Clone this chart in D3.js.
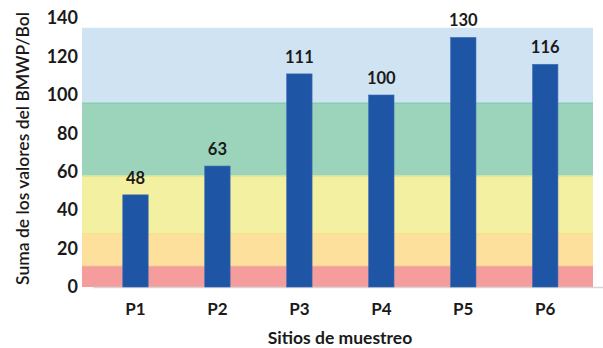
<!DOCTYPE html>
<html>
<head>
<meta charset="utf-8">
<script src="https://cdn.jsdelivr.net/npm/d3@7/dist/d3.min.js"></script>
<style>
  html, body { margin: 0; padding: 0; background: #ffffff; }
  svg { display: block; }
  text { font-family: Lato, "Open Sans", sans-serif; fill: #1a1a1a; }
</style>
</head>
<body>
<div id="chart"></div>
<script>
// Sampling sites and their summed BMWP/Bol scores
const sites = ["P1", "P2", "P3", "P4", "P5", "P6"];
const bmwpScores = [48, 63, 111, 100, 130, 116];

// Water-quality class bands drawn behind the bars (lower and upper score)
const classLower = [0, 11, 28, 58, 96];
const classUpper = [11, 28, 58, 96, 135];
const classFill = ["#f59c9c", "#fde09c", "#f3f0a2", "#9bd3bb", "#cfe3f3"];
const classEdge = ["#f6ae92", "#f7de80", "#dbe98e", "#80cbb1", "#cfe3f3"];

// y axis ticks
const yTicks = [0, 20, 40, 60, 80, 100, 120, 140];

const W = 603, H = 348;
const svg = d3.select("#chart").append("svg")
  .attr("width", W).attr("height", H);

const plotLeft = 82, plotRight = 593;
const y = d3.scaleLinear().domain([0, 140]).range([287, 18.2]);
const x = d3.scaleBand().domain(sites)
  .range([94.5, 586.2])
  .paddingInner(0.69)
  .paddingOuter(0.345);

// class bands
const bands = d3.range(classLower.length);
svg.append("g").selectAll("rect").data(bands).join("rect")
  .attr("x", plotLeft)
  .attr("width", plotRight - plotLeft)
  .attr("y", i => y(classUpper[i]))
  .attr("height", i => y(classLower[i]) - y(classUpper[i]))
  .attr("fill", i => classFill[i]);

svg.append("g").selectAll("line").data(bands.slice(0, 4)).join("line")
  .attr("x1", plotLeft).attr("x2", plotRight)
  .attr("y1", i => y(classUpper[i]) + 0.5)
  .attr("y2", i => y(classUpper[i]) + 0.5)
  .attr("stroke", i => classEdge[i])
  .attr("stroke-width", 1.2);

// baseline
svg.append("line")
  .attr("x1", 93).attr("x2", W)
  .attr("y1", y(0) + 0.5).attr("y2", y(0) + 0.5)
  .attr("stroke", "#d6d6d6").attr("stroke-width", 1.5);

// bars
svg.append("g").selectAll("rect").data(sites).join("rect")
  .attr("x", d => x(d))
  .attr("width", x.bandwidth())
  .attr("y", (d, i) => y(bmwpScores[i]))
  .attr("height", (d, i) => y(0) - y(bmwpScores[i]))
  .attr("fill", "#1f55a5")
  .attr("stroke", "#3e6db6")
  .attr("stroke-width", 0.6);

// value labels
svg.append("g").selectAll("text").data(sites).join("text")
  .attr("x", d => x(d) + x.bandwidth() / 2)
  .attr("y", (d, i) => y(bmwpScores[i]) - 11)
  .attr("text-anchor", "middle")
  .attr("font-size", 16.5)
  .attr("font-weight", 700)
  .text((d, i) => bmwpScores[i]);

// y axis (labels only)
const yAxis = d3.axisLeft(y).tickValues(yTicks).tickSize(0).tickPadding(0);
const gy = svg.append("g").attr("transform", "translate(78,0)").call(yAxis);
gy.select(".domain").remove();
gy.selectAll("text")
  .attr("font-family", "Lato, 'Open Sans', sans-serif")
  .attr("font-size", 18)
  .attr("font-weight", 700)
  .attr("fill", "#1a1a1a");

// x axis (labels only)
const xAxis = d3.axisBottom(x).tickSize(0).tickPadding(0);
const gx = svg.append("g").attr("transform", "translate(0,303)").call(xAxis);
gx.select(".domain").remove();
gx.selectAll("text")
  .attr("font-family", "Lato, 'Open Sans', sans-serif")
  .attr("font-size", 17)
  .attr("font-weight", 700)
  .attr("fill", "#1a1a1a");

// axis titles
svg.append("text")
  .attr("x", 340).attr("y", 344)
  .attr("text-anchor", "middle")
  .attr("font-size", 17.5)
  .attr("font-weight", 700)
  .text("Sitios de muestreo");

svg.append("text")
  .attr("transform", "translate(29,148.5) rotate(-90)")
  .attr("text-anchor", "middle")
  .attr("font-size", 17.5)
  .attr("font-weight", 600)
  .text("Suma de los valores del BMWP/Bol");
</script>
</body>
</html>
